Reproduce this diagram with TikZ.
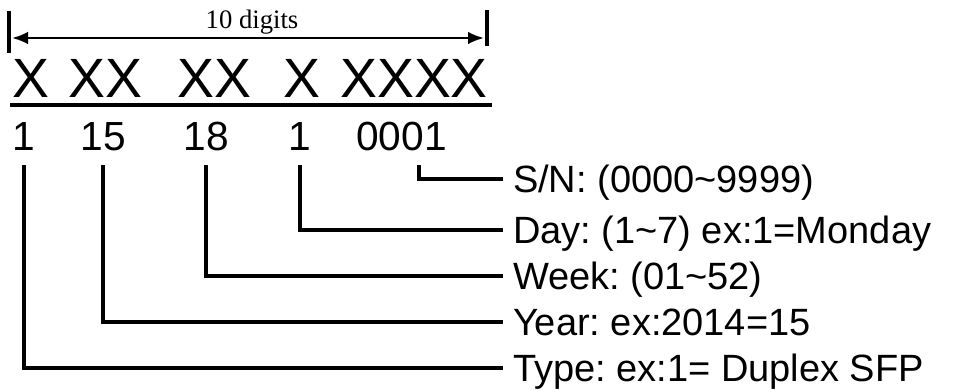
\documentclass[tikz,border=0pt]{standalone}
\usepackage{fontspec}
\setmainfont{Liberation Sans}
\newfontfamily\dimfont{Liberation Serif}
\usetikzlibrary{arrows.meta}
\frenchspacing

\begin{document}
\begin{tikzpicture}[x=0.75pt, y=-0.75pt]
  \tikzset{lead/.style={line width=3pt}}
  \tikzset{field/.style={anchor=base west, inner sep=0pt, font=\fontsize{41.5}{50}\selectfont}}
  \tikzset{digit/.style={anchor=base west, inner sep=0pt, outer xsep=0pt, outer ysep=11.25pt, font=\fontsize{30.5}{36}\selectfont}}
  \tikzset{meaning/.style={anchor=west, inner sep=0pt, outer xsep=7.5pt, text height=20.4pt, text depth=0pt, font=\fontsize{28.5}{34}\selectfont}}
  \useasboundingbox (0,0) rectangle (955,389);
  % width marker
  \coordinate (dimL) at (12,38);
  \coordinate (dimR) at (484,38);
  \draw[line width=2.6pt] (9,11) -- (9,53);
  \draw[line width=2.6pt] (487,10) -- (487,46);
  \draw[line width=1.9pt, {Latex[length=12pt,width=9.5pt]}-{Latex[length=12pt,width=9.5pt]}] (dimL) -- (dimR);
  \node[anchor=base, inner sep=0pt, font=\dimfont\fontsize{20}{24}\selectfont] (dimtext) at (252,28) {10 digits};
  % code fields
  \node[field] (xtype) at (12,97) {X};
  \node[field] (xyear) at (68,97) {XX};
  \node[field] (xweek) at (177,97) {XX};
  \node[field] (xday) at (283,97) {X};
  \node[field] (xsn) at (340,97) {XXXX};
  \draw[line width=2.6pt] (10,105) -- (492,105);
  % example values
  \node[digit] (dtype) at (12.6,150) {1};
  \node[digit] (dyear) at (80.6,150) {15};
  \node[digit] (dweek) at (183.6,150) {18};
  \node[digit] (dday) at (288.6,150) {1};
  \node[digit] (dsn) at (356.3,150) {0001};
  % meanings
  \node[meaning] (lsn) at (503,179) {S/N: (0000\textasciitilde 9999)};
  \node[meaning] (lday) at (503,230) {Day: (1\textasciitilde 7) ex:1=Monday};
  \node[meaning] (lweek) at (503,276) {Week: (01\textasciitilde 52)};
  \node[meaning] (lyear) at (503,322) {Year: ex:2014=15};
  \node[meaning] (ltype) at (503,368) {Type: ex:1= Duplex SFP};
  \draw[lead] ([xshift=13pt]dsn.south) |- (lsn.west);
  \draw[lead] (dday.south) |- (lday.west);
  \draw[lead] (dweek.south) |- (lweek.west);
  \draw[lead] (dyear.south) |- (lyear.west);
  \draw[lead] (dtype.south) |- (ltype.west);
\end{tikzpicture}
\end{document}
